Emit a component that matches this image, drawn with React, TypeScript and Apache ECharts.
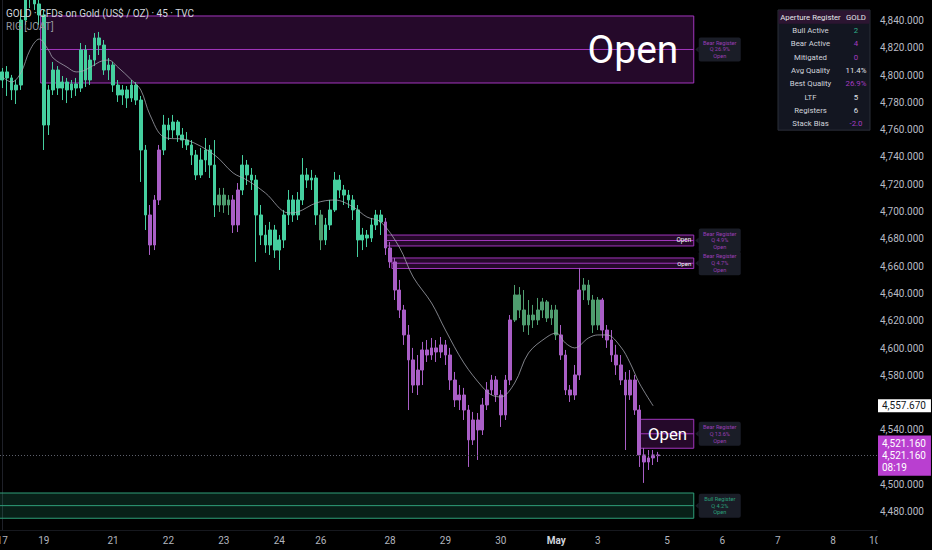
import React, { useEffect, useRef } from "react";
import * as echarts from "echarts";

const FONT = "Roboto, 'Noto Sans', sans-serif";

// ---- time slots (category axis) ----
const SLOT_COUNT = 190;
const slotNames = Array.from({ length: SLOT_COUNT }, (_, i) => `s${i}`);
const dayTicks: [number, string][] = [
  [0, "17"], [9, "19"], [24, "21"], [36, "22"], [48, "23"], [60, "24"], [69, "26"],
  [84, "28"], [96, "29"], [108, "30"], [120, "May"], [129, "3"], [144, "5"],
  [156, "6"], [168, "7"], [180, "8"], [189, "10"],
];

// ---- price axis ----
const priceMin = 4466.7;
const priceMax = 4855.0;
const priceTicks = [4840, 4820, 4800, 4780, 4760, 4740, 4720, 4700, 4680, 4660, 4640, 4620, 4600, 4580, 4540, 4500, 4480];

// ---- candles: [open, close, low, high] ----
const candles: number[][] = [
  [4796.4, 4802.3, 4790.5, 4805.2], [4802.3, 4797.9, 4784.7, 4806.6], [4797.9, 4789.1, 4781.7, 4800.1], [4789.1, 4792.7, 4778.8, 4796.4],
  [4792.7, 4840.3, 4789.1, 4847.7], [4840.3, 4860.9, 4836.7, 4869.7], [4860.9, 4856.5, 4849.1, 4869.7], [4856.5, 4852.1, 4847.7, 4866.0],
  [4852.1, 4844.0, 4836.7, 4858.7], [4844.0, 4763.4, 4745.1, 4847.7], [4763.4, 4789.1, 4756.1, 4792.7], [4789.1, 4803.7, 4785.4, 4809.6],
  [4803.7, 4790.5, 4785.4, 4806.6], [4790.5, 4794.9, 4781.7, 4799.3], [4794.9, 4789.1, 4779.5, 4797.9], [4789.1, 4793.5, 4783.2, 4796.4],
  [4793.5, 4790.5, 4784.7, 4797.9], [4790.5, 4818.4, 4787.6, 4823.5], [4818.4, 4796.4, 4791.3, 4822.0], [4796.4, 4811.0, 4792.7, 4814.7],
  [4811.0, 4827.2, 4806.6, 4830.8], [4827.2, 4822.0, 4814.7, 4831.6], [4822.0, 4803.7, 4800.1, 4825.7], [4803.7, 4807.4, 4796.4, 4812.5],
  [4807.4, 4792.7, 4787.6, 4809.6], [4792.7, 4785.4, 4780.3, 4796.4], [4785.4, 4789.1, 4778.1, 4792.7], [4789.1, 4783.2, 4775.9, 4792.0],
  [4783.2, 4792.7, 4780.3, 4796.4], [4792.7, 4781.7, 4778.1, 4794.9], [4781.7, 4745.1, 4721.7, 4784.7], [4745.1, 4697.5, 4686.5, 4748.8],
  [4697.5, 4675.5, 4668.2, 4704.8], [4675.5, 4708.5, 4671.8, 4712.1], [4708.5, 4745.1, 4704.8, 4748.8], [4745.1, 4763.4, 4741.4, 4770.8],
  [4763.4, 4759.8, 4752.4, 4768.6], [4759.8, 4765.6, 4753.9, 4770.8], [4765.6, 4756.1, 4751.0, 4767.1], [4756.1, 4752.4, 4746.6, 4761.2],
  [4752.4, 4748.8, 4745.1, 4758.3], [4748.8, 4741.4, 4734.1, 4752.4], [4741.4, 4726.8, 4723.1, 4745.1], [4726.8, 4737.8, 4724.6, 4746.6],
  [4737.8, 4745.1, 4729.0, 4753.9], [4745.1, 4734.1, 4724.6, 4748.8], [4734.1, 4704.8, 4696.0, 4752.4], [4704.8, 4712.1, 4699.7, 4717.3],
  [4712.1, 4704.8, 4699.0, 4717.3], [4704.8, 4708.5, 4697.5, 4712.1], [4708.5, 4690.2, 4684.3, 4712.1], [4690.2, 4715.8, 4685.0, 4720.9],
  [4715.8, 4734.1, 4712.1, 4741.4], [4734.1, 4726.8, 4719.5, 4737.8], [4726.8, 4723.1, 4715.8, 4731.9], [4723.1, 4697.5, 4663.1, 4726.8],
  [4697.5, 4682.8, 4675.5, 4704.8], [4682.8, 4675.5, 4669.7, 4690.2], [4675.5, 4686.5, 4668.2, 4692.4], [4686.5, 4671.8, 4666.0, 4690.2],
  [4671.8, 4679.2, 4657.2, 4682.8], [4679.2, 4697.5, 4673.3, 4701.2], [4697.5, 4708.5, 4690.2, 4715.8], [4708.5, 4697.5, 4692.4, 4712.1],
  [4697.5, 4708.5, 4693.8, 4714.3], [4708.5, 4726.8, 4704.8, 4739.2], [4726.8, 4723.1, 4717.3, 4731.9], [4723.1, 4724.6, 4715.8, 4730.5],
  [4724.6, 4697.5, 4690.2, 4726.8], [4697.5, 4679.2, 4671.8, 4701.2], [4679.2, 4690.2, 4675.5, 4695.3], [4690.2, 4701.2, 4686.5, 4708.5],
  [4701.2, 4723.1, 4699.7, 4729.0], [4723.1, 4715.8, 4709.9, 4726.8], [4715.8, 4712.1, 4704.8, 4719.5], [4712.1, 4708.5, 4702.6, 4715.8],
  [4708.5, 4701.2, 4693.8, 4712.1], [4701.2, 4679.2, 4666.7, 4704.8], [4679.2, 4682.8, 4671.8, 4688.0], [4682.8, 4680.6, 4674.0, 4686.5],
  [4680.6, 4690.2, 4677.7, 4695.3], [4690.2, 4697.5, 4686.5, 4701.2], [4697.5, 4692.4, 4682.8, 4701.2], [4692.4, 4673.3, 4668.2, 4695.3],
  [4673.3, 4663.1, 4658.7, 4677.7], [4663.1, 4642.5, 4635.2, 4666.0], [4642.5, 4627.9, 4622.0, 4649.9], [4627.9, 4609.6, 4602.3, 4631.6],
  [4609.6, 4591.3, 4554.6, 4616.9], [4591.3, 4572.9, 4567.1, 4600.1], [4572.9, 4583.9, 4565.6, 4594.9], [4583.9, 4598.6, 4572.9, 4604.5],
  [4598.6, 4594.9, 4589.8, 4605.9], [4594.9, 4600.1, 4591.3, 4607.4], [4600.1, 4597.1, 4589.8, 4605.9], [4597.1, 4602.3, 4592.7, 4608.1],
  [4602.3, 4594.9, 4587.6, 4605.9], [4594.9, 4576.6, 4569.3, 4600.1], [4576.6, 4562.0, 4556.8, 4582.5], [4562.0, 4565.6, 4554.6, 4572.9],
  [4565.6, 4554.6, 4547.3, 4570.8], [4554.6, 4532.7, 4512.9, 4558.3], [4532.7, 4547.3, 4529.0, 4553.2], [4547.3, 4540.0, 4518.0, 4552.4],
  [4540.0, 4558.3, 4536.3, 4563.4], [4558.3, 4569.3, 4554.6, 4575.1], [4569.3, 4576.6, 4565.6, 4580.3], [4576.6, 4565.6, 4560.5, 4579.5],
  [4565.6, 4551.0, 4542.2, 4569.3], [4551.0, 4576.6, 4547.3, 4580.3], [4576.6, 4620.6, 4572.9, 4624.2], [4620.6, 4638.9, 4619.1, 4646.2],
  [4638.9, 4627.9, 4622.0, 4644.7], [4627.9, 4616.9, 4611.8, 4642.5], [4616.9, 4624.2, 4609.6, 4635.2], [4624.2, 4620.6, 4614.7, 4631.6],
  [4620.6, 4627.9, 4616.9, 4636.7], [4627.9, 4633.8, 4622.0, 4636.7], [4633.8, 4622.0, 4619.1, 4635.2], [4622.0, 4627.9, 4616.9, 4631.6],
  [4627.9, 4609.6, 4605.9, 4631.6], [4609.6, 4594.9, 4591.3, 4616.9], [4594.9, 4569.3, 4565.6, 4598.6], [4569.3, 4565.6, 4560.5, 4572.9],
  [4565.6, 4580.3, 4562.0, 4587.6], [4580.3, 4642.5, 4576.6, 4658.7], [4642.5, 4646.2, 4635.2, 4651.3], [4646.2, 4635.2, 4631.6, 4649.9],
  [4635.2, 4616.9, 4611.0, 4638.9], [4616.9, 4635.2, 4613.2, 4637.4], [4635.2, 4613.2, 4607.4, 4636.7], [4613.2, 4605.9, 4600.1, 4616.9],
  [4605.9, 4594.9, 4589.8, 4613.2], [4594.9, 4587.6, 4580.3, 4602.3], [4587.6, 4576.6, 4572.9, 4594.9], [4576.6, 4565.6, 4525.3, 4582.5],
  [4565.6, 4576.6, 4562.0, 4583.9], [4576.6, 4554.6, 4551.0, 4580.3], [4554.6, 4521.7, 4512.9, 4558.3], [4521.7, 4516.5, 4501.2, 4526.8],
  [4516.5, 4519.5, 4510.7, 4525.3], [4519.5, 4521.7, 4514.3, 4525.3], [4521.7, 4521.16, 4516.5, 4523.9],
];

// indicator regime per candle range: [from, to, regime]
const regimes: [number, number, string][] = [
  [0, 31, "bull"], [32, 34, "bear"], [35, 46, "bull"], [47, 49, "neutral"], [50, 51, "bear"],
  [52, 68, "bull"], [69, 69, "neutral"], [70, 82, "bull"], [83, 110, "bear"], [111, 120, "neutral"],
  [121, 125, "bear"], [126, 129, "neutral"], [130, 142, "bear"],
];

// moving average readings: [slot, price]
const maPoints: [number, number][] = [
  [0, 4798.6], [2, 4794.9], [4, 4801.5], [6, 4818.4], [8, 4826.4], [10, 4818.4], [11, 4812.5], [14, 4805.9],
  [16, 4802.3], [18, 4803.7], [21, 4809.6], [23, 4811.0], [25, 4805.9], [28, 4796.4], [30, 4789.1], [32, 4770.8],
  [35, 4754.6], [40, 4752.4], [46, 4741.4], [50, 4728.3], [53, 4723.1], [57, 4713.6], [62, 4699.0], [64, 4699.7],
  [68, 4706.3], [72, 4708.5], [76, 4703.4], [79, 4696.0], [82, 4692.4], [86, 4674.0], [89, 4652.1], [93, 4633.0],
  [96, 4613.2], [100, 4589.1], [104, 4571.5], [106, 4565.6], [108, 4564.2], [111, 4574.4], [114, 4596.4], [118, 4608.1],
  [120, 4611.0], [122, 4603.7], [124, 4600.1], [127, 4607.4], [129, 4609.6], [131, 4609.6], [134, 4600.8], [136, 4589.1],
  [138, 4574.4], [141, 4557.67],
];
const maLast = 4557.67;
const lastPrice = 4521.16;
const barCountdown = "08:19";

// registers (zones)
type Register = { kind: string; from: number; to: number; top: number; bottom: number; quality: number; state: string };
const registers: Register[] = [
  { kind: "Bear", from: 8.3, to: 149.8, top: 4843.3, bottom: 4794.2, quality: 26.9, state: "Open" },
  { kind: "Bear", from: 82.9, to: 149.8, top: 4682.8, bottom: 4674.8, quality: 4.9, state: "Open" },
  { kind: "Bear", from: 84.4, to: 149.8, top: 4666.0, bottom: 4658.3, quality: 4.7, state: "Open" },
  { kind: "Bear", from: 137.9, to: 149.8, top: 4547.8, bottom: 4526.6, quality: 13.6, state: "Open" },
  { kind: "Bull", from: -2, to: 149.8, top: 4493.8, bottom: 4475.3, quality: 4.2, state: "Open" },
];

// dashboard table
const tableTitle = ["Aperture Register", "GOLD"];
const tableLabels = ["Bull Active", "Bear Active", "Mitigated", "Avg Quality", "Best Quality", "LTF", "Registers", "Stack Bias"];
const tableValues = ["2", "4", "0", "11.4%", "26.9%", "5", "6", "-2.0"];
const tableTones = ["bull", "bear", "bear", "plain", "bear", "plain", "plain", "bear"];

const titleLine = "GOLD · CFDs on Gold (US$ / OZ) · 45 · TVC";
const indicatorLine = "RIG [JOAT]";

// ---- styles ----
const palette: Record<string, { up: string; down: string }> = {
  bull: { up: "#45cf9f", down: "#2fa17f" },
  bear: { up: "#a95ec6", down: "#c93fd3" },
  neutral: { up: "#4f9d6f", down: "#c2615f" },
};
const toneColor: Record<string, string> = { bull: "#2fae8a", bear: "#a53cc0", plain: "#e0e3eb" };

function regimeOf(i: number): string {
  const r = regimes.find(([a, b]) => i >= a && i <= b);
  return r ? r[2] : "bull";
}

function fmtPrice(v: number): string {
  return v.toLocaleString("en-US", { minimumFractionDigits: 3, maximumFractionDigits: 3 });
}

function buildOption(): any {
  const tickMap = new Map<number, string>(dayTicks);
  const candleData = candles.map((c, i) => {
    const p = palette[regimeOf(i)];
    return {
      value: c,
      itemStyle: { color: p.up, color0: p.down, borderColor: p.up, borderColor0: p.down, borderWidth: 1 },
    };
  });

  const TX = 778, TY = 10, TW = 92, RH = 13.35;
  const tableEls: any[] = [
    { type: "rect", z: 50, shape: { x: TX, y: TY, width: TW, height: RH * 9 }, style: { fill: "#131621", stroke: "#2a2e39", lineWidth: 1 } },
    { type: "rect", z: 51, shape: { x: TX + 0.5, y: TY + 0.5, width: TW - 1, height: RH }, style: { fill: "#2c1531" } },
    { type: "text", z: 52, x: 810.5, y: TY + RH / 2 + 0.5, style: { text: tableTitle[0], fill: "#e6e6ea", fontSize: 7.8, fontFamily: FONT, align: "center", verticalAlign: "middle" } },
    { type: "text", z: 52, x: 856, y: TY + RH / 2 + 0.5, style: { text: tableTitle[1], fill: "#e6e6ea", fontSize: 7.8, fontFamily: FONT, align: "center", verticalAlign: "middle" } },
  ];
  tableLabels.forEach((lab, i) => {
    const cy = TY + RH * (i + 1) + RH / 2 + 0.5;
    tableEls.push({ type: "text", z: 52, x: 810.5, y: cy, style: { text: lab, fill: "#d1d4dc", fontSize: 7.8, fontFamily: FONT, align: "center", verticalAlign: "middle" } });
    tableEls.push({ type: "text", z: 52, x: 856, y: cy, style: { text: tableValues[i], fill: toneColor[tableTones[i]], fontSize: 7.8, fontFamily: FONT, align: "center", verticalAlign: "middle" } });
  });

  return {
    animation: false,
    backgroundColor: "#000000",
    textStyle: { fontFamily: FONT },
    grid: { left: 0, right: 55, top: 0, bottom: 20, containLabel: false, outerBoundsMode: "none" },
    xAxis: [
      {
        type: "category",
        data: slotNames,
        boundaryGap: true,
        axisLine: { show: true, lineStyle: { color: "#16181e" } },
        axisTick: { show: false },
        splitLine: { show: false },
        axisLabel: {
          interval: (index: number) => tickMap.has(index),
          formatter: (_v: string, index: number) => {
            const t = tickMap.get(index) || "";
            return t === "May" ? "{m|May}" : t;
          },
          color: "#b2b5be",
          fontSize: 10,
          margin: 5,
          fontFamily: FONT,
          rich: { m: { fontWeight: "bold", color: "#d1d4dc", fontSize: 10, fontFamily: FONT } },
        },
      },
      { type: "value", min: -0.5, max: SLOT_COUNT - 0.5, show: false },
    ],
    yAxis: {
      type: "value",
      position: "right",
      min: priceMin,
      max: priceMax,
      axisLine: { show: true, lineStyle: { color: "#1e2028" } },
      axisTick: { show: false },
      splitLine: { show: false },
      axisLabel: {
        customValues: priceTicks,
        formatter: (v: number) => fmtPrice(v),
        color: "#b8bbc4",
        fontSize: 10,
        margin: 3,
        fontFamily: FONT,
      },
    },
    graphic: [
      { type: "text", z: 50, x: 6, y: 13.5, style: { text: titleLine, fill: "#d1d4dc", fontSize: 10, fontFamily: FONT, verticalAlign: "middle" } },
      { type: "text", z: 50, x: 6, y: 26.8, style: { text: indicatorLine, fill: "#9598a1", fontSize: 10, fontFamily: FONT, verticalAlign: "middle" } },
      { type: "rect", z: 100, shape: { x: 877.5, y: 531, width: 60, height: 20 }, style: { fill: "#000" } },
      ...tableEls,
    ],
    series: [
      {
        type: "custom",
        xAxisIndex: 1,
        yAxisIndex: 0,
        z: 1,
        encode: { x: [0, 2], y: [1, 3] },
        data: registers.map((r) => [r.from, r.top, r.to, r.bottom]),
        renderItem: (params: any, api: any) => {
          const r = registers[params.dataIndex];
          const tl = api.coord([r.from, r.top]);
          const br = api.coord([r.to, r.bottom]);
          const midY = (tl[1] + br[1]) / 2;
          const h = br[1] - tl[1];
          const bear = r.kind === "Bear";
          const stroke = bear ? "#a236be" : "#2e9e78";
          const fill = bear ? "rgba(156,39,176,0.24)" : "rgba(38,160,118,0.2)";
          const children: any[] = [
            { type: "rect", shape: { x: tl[0], y: tl[1], width: br[0] - tl[0], height: h }, style: { fill, stroke, lineWidth: 1 } },
            { type: "line", shape: { x1: tl[0], y1: midY, x2: br[0], y2: midY }, style: { stroke, lineWidth: 1 } },
          ];
          if (bear) {
            const fs = h * 0.58;
            children.push({
              type: "text",
              x: br[0] - fs * 0.4,
              y: midY,
              style: { text: r.state, fill: "#ffffff", fontSize: fs, fontFamily: FONT, align: "right", verticalAlign: "middle" },
            });
          }
          const lx = br[0] + 5, lw = 42, lh = 24;
          const bg = "#1a1d27";
          children.push({ type: "polygon", shape: { points: [[br[0] + 1.5, midY], [lx, midY - 3], [lx, midY + 3]] }, style: { fill: bg } });
          children.push({ type: "rect", shape: { x: lx, y: midY - lh / 2, width: lw, height: lh, r: 2 }, style: { fill: bg } });
          const tc = bear ? "#9a3db5" : "#2aa07a";
          [`${r.kind} Register`, `Q ${r.quality.toFixed(1)}%`, r.state].forEach((t, i) => {
            children.push({
              type: "text",
              x: lx + lw / 2,
              y: midY + (i - 1) * 6.8,
              style: { text: t, fill: tc, fontSize: 5.6, fontFamily: FONT, align: "center", verticalAlign: "middle" },
            });
          });
          return { type: "group", children };
        },
      },
      {
        type: "candlestick",
        xAxisIndex: 0,
        yAxisIndex: 0,
        z: 2,
        barWidth: "70%",
        barMaxWidth: 3.4,
        data: candleData,
        markLine: {
          silent: true,
          symbol: ["none", "none"],
          animation: false,
          data: [
            {
              yAxis: lastPrice,
              lineStyle: { color: "#5d606b", type: [1, 2], width: 1 },
              label: {
                show: true,
                position: "end",
                distance: 1,
                formatter: () => `${fmtPrice(lastPrice)}\n${fmtPrice(lastPrice)}\n${barCountdown}`,
                backgroundColor: "#b93fd0",
                color: "#ffffff",
                fontSize: 10,
                lineHeight: 11.8,
                padding: [3, 5, 2, 4],
                align: "left",
                fontFamily: FONT,
              },
            },
            {
              yAxis: maLast,
              lineStyle: { color: "rgba(0,0,0,0)", width: 0.1 },
              label: {
                show: true,
                position: "end",
                distance: 1,
                formatter: () => fmtPrice(maLast),
                backgroundColor: "#ffffff",
                color: "#131722",
                fontSize: 10,
                padding: [2, 5, 1, 4],
                align: "left",
                fontFamily: FONT,
              },
            },
          ],
        },
      },
      {
        type: "line",
        xAxisIndex: 1,
        yAxisIndex: 0,
        z: 3,
        smooth: 0.35,
        symbol: "none",
        data: maPoints,
        lineStyle: { color: "rgba(170,172,182,0.75)", width: 1 },
      },
    ],
  };
}

export default function App() {
  const ref = useRef<HTMLDivElement>(null);
  useEffect(() => {
    document.body.style.margin = "0";
    document.body.style.background = "#000";
    const chart = echarts.init(ref.current as HTMLDivElement, null, { renderer: "svg" });
    chart.setOption(buildOption());
    return () => chart.dispose();
  }, []);
  return <div ref={ref} style={{ width: 932, height: 550, background: "#000" }} />;
}
